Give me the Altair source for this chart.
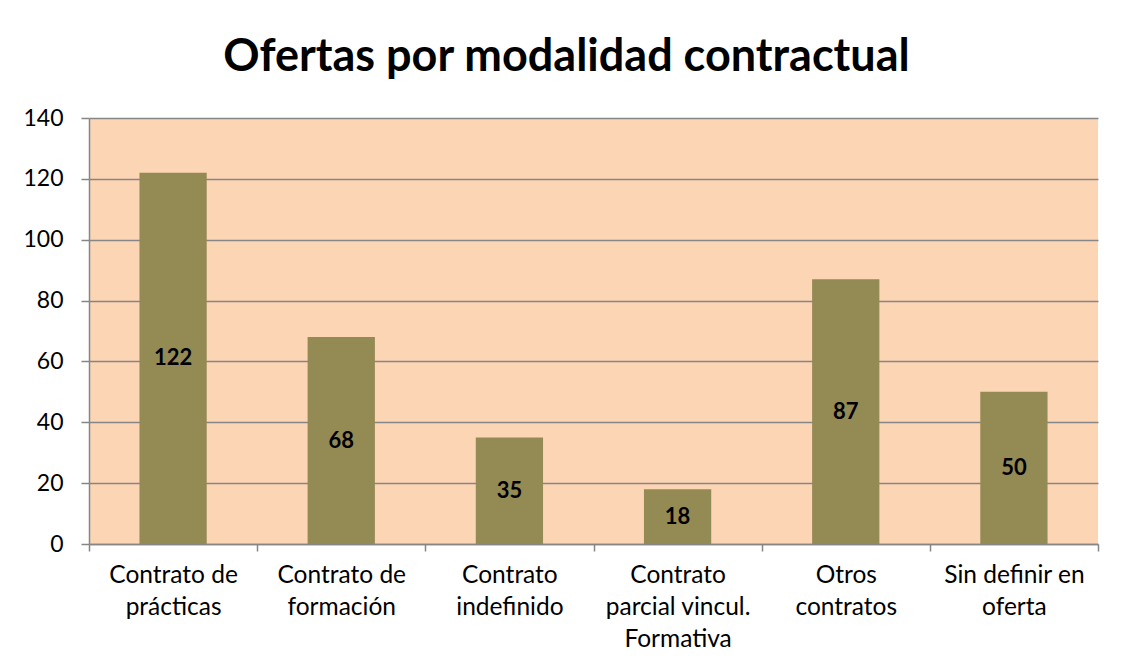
import altair as alt
import pandas as pd
import json

categories = ["Contrato de prácticas", "Contrato de formación", "Contrato indefinido",
              "Contrato parcial vincul. Formativa", "Otros contratos", "Sin definir en oferta"]
values = [122, 68, 35, 18, 87, 50]
label_lines = [["Contrato de", "prácticas"], ["Contrato de", "formación"], ["Contrato", "indefinido"],
               ["Contrato", "parcial vincul.", "Formativa"], ["Otros", "contratos"], ["Sin definir en", "oferta"]]
y_ticks = [0, 20, 40, 60, 80, 100, 120, 140]

df = pd.DataFrame({"cat": categories, "val": values})
label_map = json.dumps(dict(zip(categories, label_lines)), ensure_ascii=False)

FONT = "Lato"
W, H = 1009, 426

x_axis = alt.Axis(labelExpr=f"{label_map}[datum.value]", labelAngle=0,
                  labelFont=FONT, labelFontSize=24.5, labelColor="#000000",
                  labelLineHeight=32, labelPadding=12, labelBaseline="top",
                  tickBand="extent", tickColor="#868686", tickSize=7, tickWidth=1.5,
                  domainColor="#868686", domainWidth=1.5, grid=False)
y_axis = alt.Axis(values=y_ticks, labelFont=FONT, labelFontSize=23, labelColor="#000000",
                  labelPadding=18, tickColor="#868686", tickSize=8, tickWidth=1.5,
                  domainColor="#868686", domainWidth=1.5,
                  grid=True, gridColor="#868686", gridWidth=1.5)
x_scale = alt.Scale(paddingInner=0, paddingOuter=0)
y_scale = alt.Scale(domain=[0, 140], nice=False)

base = alt.Chart(df).encode(
    x=alt.X("cat:N", sort=categories, title=None, scale=x_scale, axis=x_axis)
)

bars = base.mark_bar(color="#948A54", width=alt.RelativeBandSize(0.4)).encode(
    y=alt.Y("val:Q", title=None, scale=y_scale, axis=y_axis),
)

text = base.transform_calculate(mid="datum.val / 2").mark_text(
    font=FONT, fontSize=22, fontWeight="bold", color="#000000", baseline="middle"
).encode(
    y=alt.Y("mid:Q", title=None, scale=y_scale, axis=y_axis),
    text=alt.Text("val:Q"),
)

chart = alt.layer(bars, text).properties(
    width=W, height=H,
    title=alt.TitleParams("Ofertas por modalidad contractual", font=FONT, fontSize=45,
                          fontWeight="bold", color="#000000", anchor="middle", offset=27,
                          dx=-27),
    autosize=alt.AutoSizeParams(type="none"),
    padding={"left": 81, "top": 110, "right": 18, "bottom": 118},
).configure(background="white").configure_view(fill="#FCD5B5", stroke=None)

chart.save("out.html", embed_options={"renderer": "svg", "actions": False})
